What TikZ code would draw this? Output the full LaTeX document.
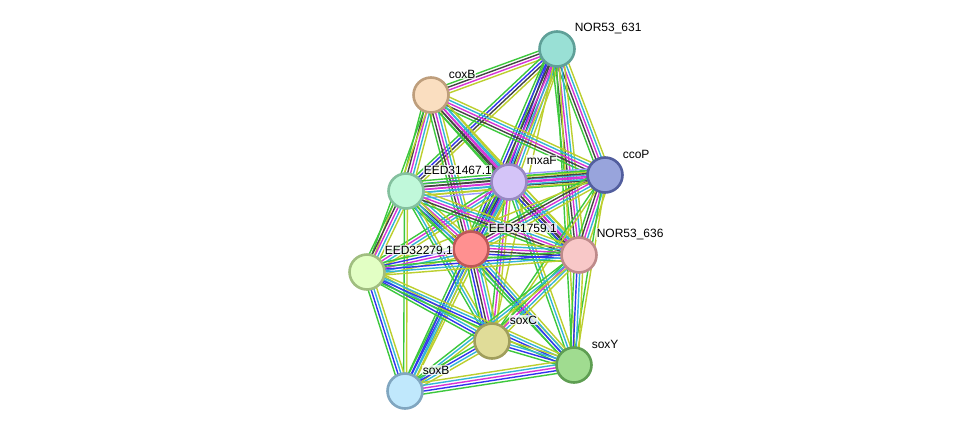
\documentclass[tikz,border=0pt]{standalone}
\usepackage{fontspec}
\setmainfont{Liberation Sans}
\usetikzlibrary{calc}
\pgfdeclarelayer{bg}
\pgfsetlayers{bg,main}
\definecolor{eg}{HTML}{3DC83D}
\definecolor{eb}{HTML}{3333EE}
\definecolor{ek}{HTML}{444444}
\definecolor{em}{HTML}{D633D6}
\definecolor{ec}{HTML}{33B5D6}
\definecolor{ey}{HTML}{BCCF2E}
\definecolor{el}{HTML}{9A9AFF}
\newcommand\edg[3]{%
  \foreach \cc [count=\ii] in {#3} {\xdef\nnn{\ii}}%
  \foreach \cc [count=\ii] in {#3} {%
    \pgfmathsetmacro\off{(\ii-(\nnn+1)/2)*2.9}%
    \draw[edgeline,draw=\cc] ($(#1.center)!\off pt!90:(#2.center)$) -- ($(#2.center)!\off pt!-90:(#1.center)$);
  }}
\begin{document}
\begin{tikzpicture}[x=1pt,y=-1pt,
  prot/.style={circle,minimum size=35pt,inner sep=0pt,line width=2.6pt},
  lbl/.style={anchor=west,font=\fontsize{12}{14}\selectfont,inner sep=0.6pt,fill=white,fill opacity=0.75,text opacity=1},
  edgeline/.style={line width=1.4pt}]
\useasboundingbox (0,0) rectangle (976,437);
\node[prot,fill={rgb,255:red,153;green,224;blue,213},draw={rgb,255:red,95;green,160;blue,152}] (A) at (557,49) {};
\node[prot,fill={rgb,255:red,250;green,222;blue,192},draw={rgb,255:red,190;green,158;blue,124}] (B) at (431,95) {};
\node[prot,fill={rgb,255:red,152;green,164;blue,220},draw={rgb,255:red,82;green,94;blue,158}] (C) at (605,175) {};
\node[prot,fill={rgb,255:red,212;green,196;blue,248},draw={rgb,255:red,152;green,136;blue,194}] (M) at (509,182) {};
\node[prot,fill={rgb,255:red,192;green,248;blue,218},draw={rgb,255:red,132;green,192;blue,158}] (E1) at (406,191) {};
\node[prot,fill={rgb,255:red,255;green,144;blue,144},draw={rgb,255:red,190;green,88;blue,88}] (E2) at (471,249) {};
\node[prot,fill={rgb,255:red,248;green,200;blue,200},draw={rgb,255:red,190;green,138;blue,138}] (N6) at (579,255) {};
\node[prot,fill={rgb,255:red,226;green,255;blue,196},draw={rgb,255:red,160;green,190;blue,128}] (E3) at (367,272) {};
\node[prot,fill={rgb,255:red,224;green,220;blue,152},draw={rgb,255:red,160;green,158;blue,92}] (SC) at (492,341) {};
\node[prot,fill={rgb,255:red,160;green,220;blue,144},draw={rgb,255:red,94;green,158;blue,82}] (SY) at (574,365) {};
\node[prot,fill={rgb,255:red,192;green,232;blue,252},draw={rgb,255:red,128;green,166;blue,192}] (SB) at (405,391) {};
\node[lbl] (lA) at (574,28) {NOR53\_631};
\node[lbl] (lB) at (448,74) {coxB};
\node[lbl] (lC) at (622,154) {ccoP};
\node[lbl] (lM) at (526,160) {mxaF};
\node[lbl] (lE1) at (423,170) {EED31467.1};
\node[lbl] (lE2) at (488,228) {EED31759.1};
\node[lbl] (lN6) at (596,234) {NOR53\_636};
\node[lbl] (lE3) at (384,250) {EED32279.1};
\node[lbl] (lSC) at (509,320) {soxC};
\node[lbl] (lSY) at (591,344) {soxY};
\node[lbl] (lSB) at (422,370) {soxB};
\begin{pgfonlayer}{bg}
\fill[white] (0,0) rectangle (976,437);
\edg{A}{B}{eg,ek,em,ey}
\edg{A}{E1}{eg,eb,ek,ey}
\edg{A}{M}{eg,eb,ek,em,ec,ey}
\edg{A}{C}{eg,ek,em,ec,ey}
\edg{A}{E2}{eg,eb,ek,em,ec,ey}
\edg{A}{N6}{eg,ek,em,ec,ey}
\edg{A}{SY}{eg,ey}
\edg{A}{SC}{ey}
\edg{B}{E1}{eg,ek,em,ec,ey}
\edg{B}{M}{eg,ek,em,ec,ey}
\edg{B}{C}{eg,ek,em,ec,ey}
\edg{B}{E2}{eg,ek,em,ec,ey}
\edg{B}{N6}{eg,ek,em,ec,ey}
\edg{B}{E3}{eg,ey}
\edg{M}{E1}{eg,eb,ek,em,ec,ey,el}
\edg{M}{C}{eg,ek,em,ec,ey,el}
\edg{M}{E2}{eg,eb,ek,em,ec,ey}
\edg{M}{N6}{eg,eb,ek,em,ec,ey}
\edg{M}{E3}{eg,em,ec,ey}
\edg{M}{SC}{eg,em,ey}
\edg{M}{SY}{eg,ec,ey}
\edg{M}{SB}{eg,eb,ec,ey}
\edg{C}{E1}{eg,ek,em,ec,ey}
\edg{C}{E2}{eg,ek,em,ec,ey}
\edg{C}{N6}{eg,ek,em,ec,ey}
\edg{C}{SY}{eg,ey}
\edg{C}{SC}{eg,ey}
\edg{C}{E3}{ey}
\edg{E1}{E2}{eg,eb,ek,em,ec,ey}
\edg{E1}{E3}{eg,ek,em,ec,ey}
\edg{E1}{N6}{eg,ek,em,ec,ey}
\edg{E1}{SC}{eg,ec,ey}
\edg{E1}{SB}{eg,ey}
\edg{E1}{SY}{eg,ec,ey}
\edg{E2}{N6}{eg,eb,ek,em,ec,ey}
\edg{E2}{E3}{eg,eb,em,ec,ey}
\edg{E2}{SC}{eg,eb,ek,em,ec,ey}
\edg{E2}{SY}{eg,eb,ec,ey}
\edg{E2}{SB}{eg,eb,ec,ey}
\edg{N6}{E3}{eg,eb,ec,ey}
\edg{N6}{SC}{eg,em,ec,ey}
\edg{N6}{SY}{eg,eb,ec,ey}
\edg{N6}{SB}{eg,ec,ey}
\edg{E3}{SB}{eg,eb,ec,ey}
\edg{E3}{SC}{eg,eb,ec,ey}
\edg{E3}{SY}{eg,eb,ec,ey}
\edg{SC}{SY}{eg,eb,ec,ey}
\edg{SC}{SB}{eg,eb,ec,ey}
\edg{SB}{SY}{eg,eb,em,ec,ey}
\end{pgfonlayer}
\end{tikzpicture}
\end{document}
